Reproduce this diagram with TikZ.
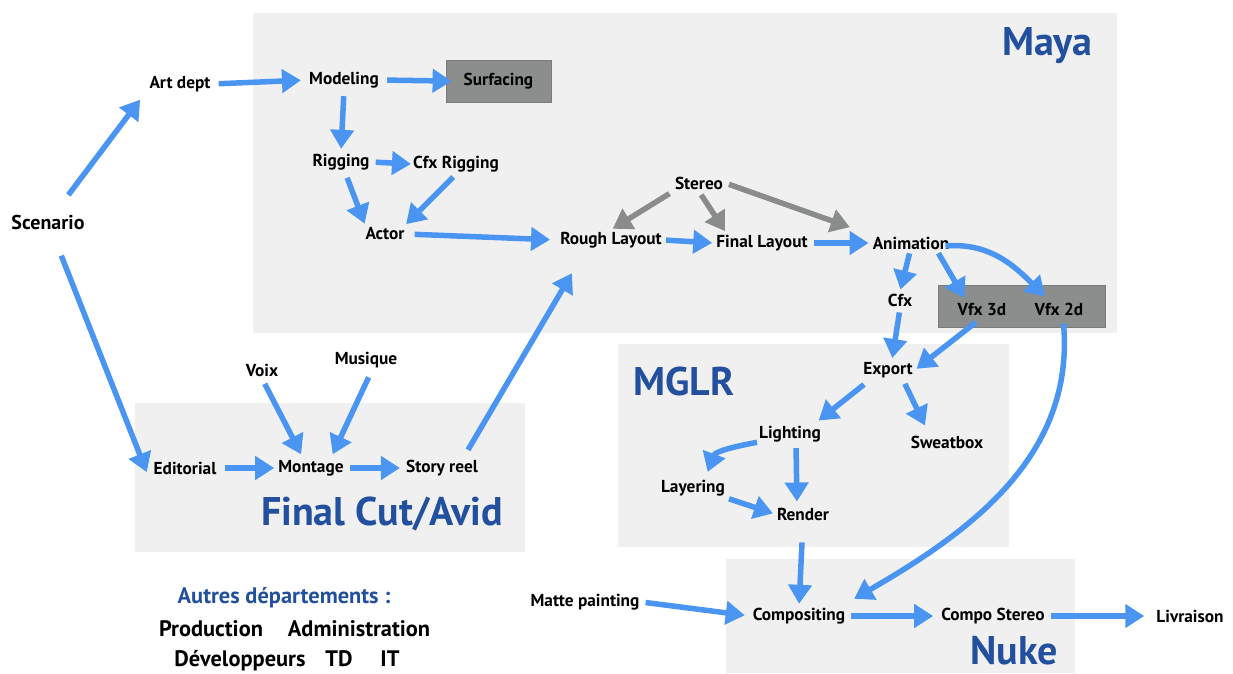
\documentclass[tikz,border=0pt]{standalone}
\usepackage{fontspec}
\setmainfont{PT Sans}
\usetikzlibrary{arrows.meta,calc}
\definecolor{boxbg}{HTML}{F0F0F0}
\definecolor{darkbox}{HTML}{8C8E8E}
\definecolor{darkboxline}{HTML}{7A7C7C}
\definecolor{arrblue}{HTML}{4A95F2}
\definecolor{arrgray}{HTML}{8A8C8C}
\definecolor{titleblue}{HTML}{22509E}
\tikzset{
  region/.style={fill=boxbg,draw=none},
  tool/.style={fill=darkbox,draw=darkboxline,line width=0.8pt},
  lbl/.style={font=\fontsize{17.3}{20}\selectfont\bfseries,text=black,inner sep=2pt},
  title/.style={font=\fontsize{40}{44}\selectfont\bfseries,text=titleblue,inner sep=0pt},
  other/.style={font=\fontsize{22.4}{26}\selectfont\bfseries,inner sep=0pt,anchor=base},
  arr/.style={draw=arrblue,line width=5.5pt,-{Triangle[length=19pt,width=23pt]},shorten >=2pt,shorten <=3pt},
  garr/.style={arr,draw=arrgray}
}
\begin{document}
\begin{tikzpicture}[x=1pt,y=-1pt]
\useasboundingbox (0,0) rectangle (1233,673);
% regions
\fill[region] (253,13) rectangle (1117,333);
\fill[region] (618,344) rectangle (1009,547);
\fill[region] (135,403) rectangle (525,552);
\fill[region] (726,559) rectangle (1075,673);
\draw[tool] (938,285) rectangle (1105,327);
% titles
\node[title,anchor=east] (tmaya) at (1093,46) {Maya};
\node[title,anchor=west] (tmglr) at (633,381) {MGLR};
\node[title,anchor=east] (tfc) at (503,514) {Final Cut/Avid};
\node[title,anchor=east] (tnuke) at (1058,651) {Nuke};
% nodes
\node[lbl,font=\fontsize{20}{24}\selectfont\bfseries] (scen) at (48,222) {Scenario};
\node[lbl] (art) at (180,84) {Art dept};
\node[lbl] (mod) at (344,80) {Modeling};
\node[lbl,tool,minimum width=105pt,minimum height=42pt] (surf) at (498.5,81) {Surfacing};
\node[lbl] (rig) at (341,162) {Rigging};
\node[lbl] (cfxr) at (456,164) {Cfx Rigging};
\node[lbl] (act) at (385,234) {Actor};
\node[lbl] (ster) at (699,183) {Stereo};
\node[lbl] (rough) at (611,240) {Rough Layout};
\node[lbl] (final) at (762,243) {Final Layout};
\node[lbl] (anim) at (911,243) {Animation};
\node[lbl] (cfx) at (900,300) {Cfx};
\node[lbl] (vfx3) at (982,309) {Vfx 3d};
\node[lbl] (vfx2) at (1059,309) {Vfx 2d};
\node[lbl] (exp) at (888,370) {Export};
\node[lbl] (light) at (790,434) {Lighting};
\node[lbl] (sweat) at (947,442) {Sweatbox};
\node[lbl] (layer) at (693,488) {Layering};
\node[lbl] (rend) at (803,514) {Render};
\node[lbl] (voix) at (262,370) {Voix};
\node[lbl] (mus) at (366,360) {Musique};
\node[lbl] (edit) at (185,468) {Editorial};
\node[lbl] (mont) at (311,468) {Montage};
\node[lbl] (story) at (442,468) {Story reel};
\node[lbl] (matte) at (585,602) {Matte painting};
\node[lbl] (comp) at (799,616) {Compositing};
\node[lbl] (cstereo) at (993,616) {Compo Stereo};
\node[lbl] (livr) at (1190,616) {Livraison};
% other departments
\node[other,text=titleblue] (autres) at (284,603) {Autres départements :};
\node[other] (prod) at (211,636) {Production};
\node[other] (admin) at (359,636) {Administration};
\node[other] (dev) at (240,666) {Développeurs};
\node[other] (td) at (339,666) {TD};
\node[other] (it) at (390,666) {IT};
% arrows
\draw[arr,shorten <=22pt,shorten >=2pt] (scen) -- ($(art.south west)+(-6,4)$);
\draw[arr,shorten <=26pt,shorten >=2pt] (scen) -- ($(edit.west)+(-4,6)$);
\draw[arr,shorten <=6pt,shorten >=6pt] (art.east) -- (mod.west);
\draw[arr,shorten <=6pt,shorten >=-6pt] (mod.east) -- (surf.west);
\draw[arr,shorten <=6pt,shorten >=3pt] (mod.south) -- (rig.north);
\draw[arr,shorten <=4pt,shorten >=0pt] (rig.east) -- (cfxr.west);
\draw[arr,shorten <=6pt,shorten >=2pt] ($(rig.south)+(4,0)$) -- ($(act.north west)+(2,0)$);
\draw[arr,shorten <=4pt,shorten >=2pt] (cfxr.south) -- ($(act.north east)+(-2,0)$);
\draw[arr,shorten <=8pt,shorten >=8pt] (act.east) -- (rough.west);
\draw[arr,shorten <=0pt,shorten >=0pt] ($(story.north)+(26,-8)$) -- ($(rough.south)+(-39,23)$);
\draw[garr,shorten <=4pt,shorten >=2pt] (ster.south west) -- (rough.north);
\draw[garr,shorten <=4pt,shorten >=2pt] (ster.south) -- ($(final.north west)+(12,0)$);
\draw[garr,shorten <=4pt,shorten >=22pt] (ster.east) -- (anim.north west);
\draw[arr,shorten <=2pt,shorten >=2pt] (rough.east) -- (final.west);
\draw[arr,shorten <=4pt,shorten >=2pt] (final.east) -- (anim.west);
\draw[arr,shorten <=2pt,shorten >=2pt] ($(anim.south)+(-1,0)$) -- (cfx.north);
\draw[arr,shorten <=2pt,shorten >=3pt] ($(anim.south east)+(-14,0)$) -- ($(vfx3.north)+(-16,0)$);
\draw[arr,shorten <=0pt,shorten >=3pt] ($(anim.east)+(-6,3)$) to[out=5,in=135] ($(vfx2.north)+(-12,-2)$);
\draw[arr,shorten <=4pt,shorten >=2pt] (cfx.south) -- ($(exp.north)+(4,0)$);
\draw[arr,shorten <=8pt,shorten >=2pt] (vfx3.south) -- (exp.east);
\draw[arr,shorten <=6pt,shorten >=2pt] ($(vfx2.south)+(4,0)$) to[out=-85,in=30] ($(comp.north east)+(5,-6)$);
\draw[arr,shorten <=4pt,shorten >=2pt] ($(exp.south west)+(6,2)$) -- ($(light.north east)+(-6,-2)$);
\draw[arr,shorten <=2pt,shorten >=0pt] ($(exp.south)+(16,2)$) -- ($(sweat.north)+(-22,-8)$);
\draw[arr,shorten <=2pt,shorten >=2pt] ($(light.west)+(2,8)$) to[out=190,in=70] ($(layer.north)+(14,-4)$);
\draw[arr,shorten <=4pt,shorten >=4pt] ($(light.south)+(6,0)$) -- ($(rend.north)+(-6,0)$);
\draw[arr,shorten <=2pt,shorten >=2pt] (layer.south east) -- (rend.west);
\draw[arr,shorten <=20pt,shorten >=2pt] (rend.south) -- (comp.north);
\draw[arr,shorten <=4pt,shorten >=6pt] (matte.east) -- (comp.west);
\draw[arr,shorten <=4pt,shorten >=6pt] (comp.east) -- (cstereo.west);
\draw[arr,shorten <=4pt,shorten >=10pt] (cstereo.east) -- (livr.west);
\draw[arr,shorten <=6pt,shorten >=4pt] (voix.south) -- ($(mont.north)+(-8,0)$);
\draw[arr,shorten <=8pt,shorten >=4pt] ($(mus.south)+(6,0)$) -- ($(mont.north)+(20,0)$);
\draw[arr,shorten <=6pt,shorten >=2pt] (edit.east) -- (mont.west);
\draw[arr,shorten <=4pt,shorten >=4pt] (mont.east) -- (story.west);
\end{tikzpicture}
\end{document}
